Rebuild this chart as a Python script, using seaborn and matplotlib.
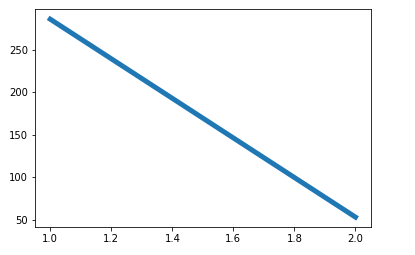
import matplotlib
matplotlib.use("Agg")
import matplotlib.pyplot as plt
import seaborn as sns
import pandas as pd

x_values = [1.0, 2.0]
y_values = [286, 53]

df = pd.DataFrame({"x": x_values, "y": y_values})

fig = plt.figure(figsize=(415/72, 255/72), dpi=72)
ax = fig.add_axes([35/415, 1 - 227/255, (370.7-35)/415, (227-9.3)/255])
sns.lineplot(data=df, x="x", y="y", ax=ax, linewidth=5, color="#1f77b4")
ax.set_xlabel("")
ax.set_ylabel("")
ax.set_xticks([1.0, 1.2, 1.4, 1.6, 1.8, 2.0])
ax.set_yticks([50, 100, 150, 200, 250])
fig.savefig("out.png", dpi=72)
